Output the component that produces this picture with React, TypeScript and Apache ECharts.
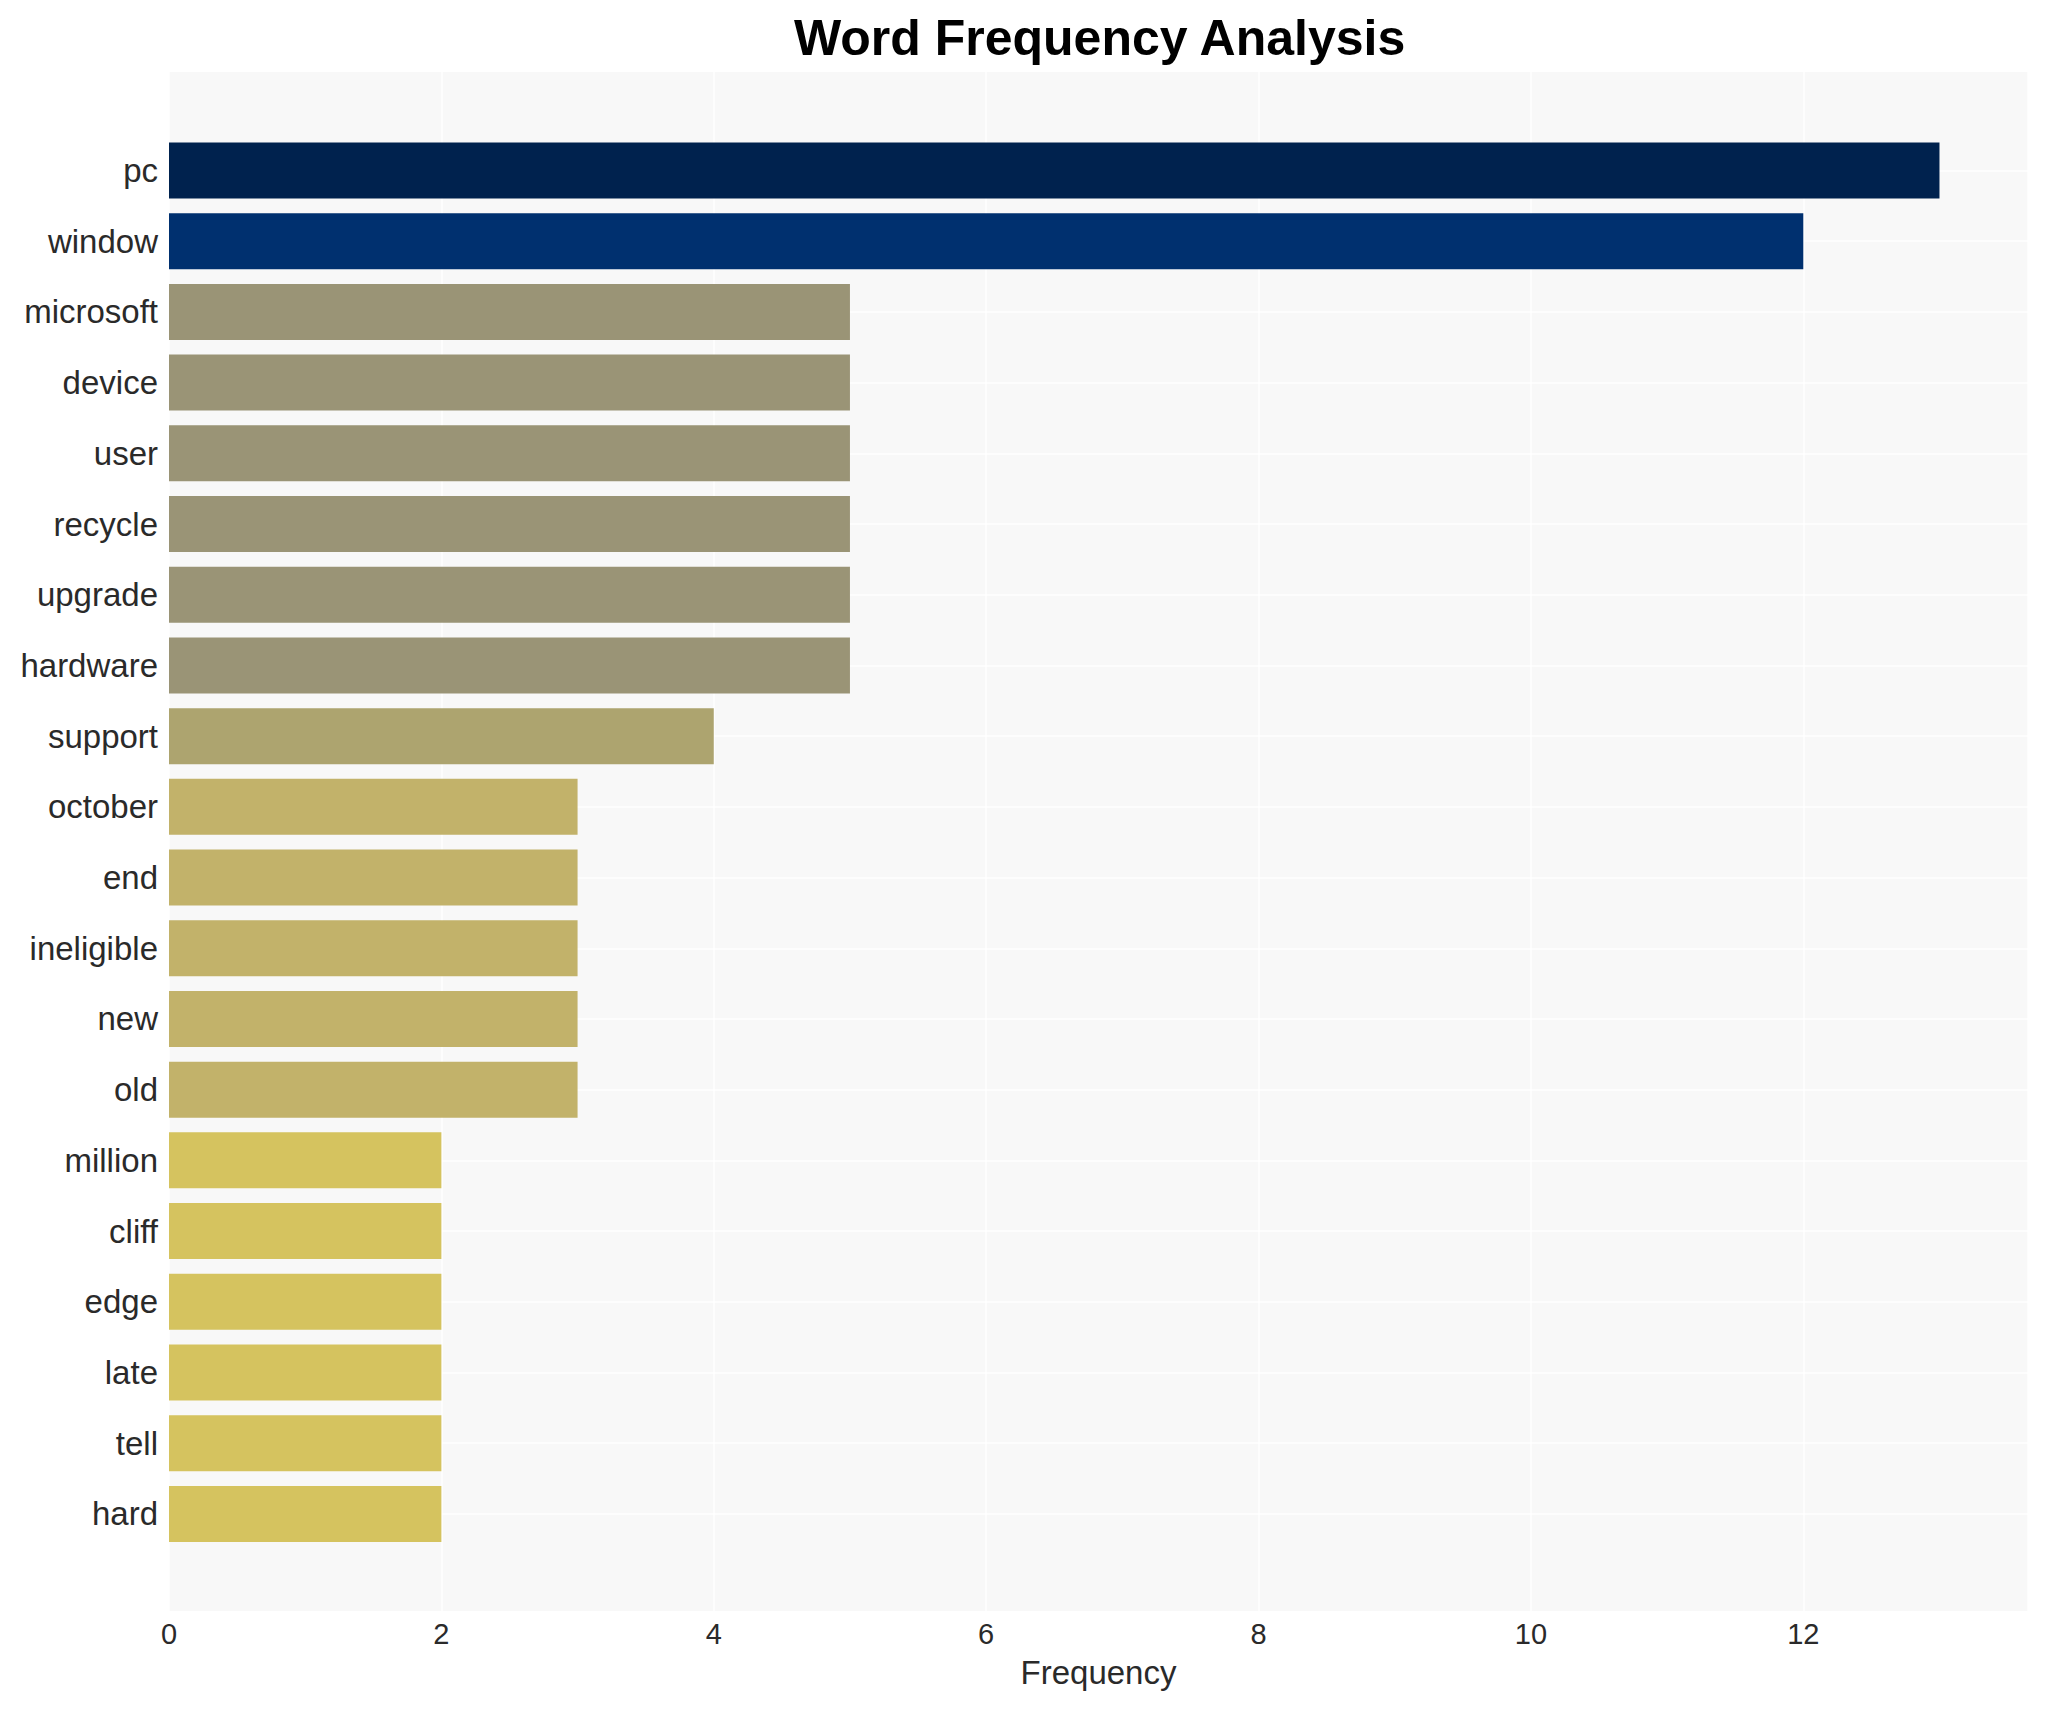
import React, { useEffect, useRef } from "react";
import * as echarts from "echarts";

const words = [
  "pc", "window", "microsoft", "device", "user", "recycle", "upgrade", "hardware",
  "support", "october", "end", "ineligible", "new", "old", "million", "cliff",
  "edge", "late", "tell", "hard",
];
const counts = [13, 12, 5, 5, 5, 5, 5, 5, 4, 3, 3, 3, 3, 3, 2, 2, 2, 2, 2, 2];
const xTicks = [0, 2, 4, 6, 8, 10, 12];

const colorByCount: Record<number, string> = {
  13: "#00224e",
  12: "#00306f",
  5: "#9a9476",
  4: "#ada46f",
  3: "#c2b26a",
  2: "#d5c35f",
};

const FONT = "'Liberation Sans', Arial, Helvetica, sans-serif";

export default function App() {
  const ref = useRef<HTMLDivElement>(null);
  useEffect(() => {
    document.body.style.margin = "0";
    if (!ref.current) return;
    const chart = echarts.init(ref.current, undefined, { renderer: "svg" });
    const xMax = 13.65;
    chart.setOption({
      animation: false,
      backgroundColor: "#ffffff",
      textStyle: { fontFamily: FONT },
      title: {
        text: "Word Frequency Analysis",
        left: 789,
        top: 8,
        textStyle: { fontSize: 50, fontWeight: "bold", color: "#000000", fontFamily: FONT },
      },
      grid: [
        {
          left: 169, top: 72, width: 1859, height: 1539,
          show: true, backgroundColor: "#f8f8f8", borderWidth: 0,
        },
        { left: 169, top: 170.5, width: 1859, height: 1343.4 },
      ],
      xAxis: [
        {
          gridIndex: 0, type: "value", min: 0, max: xMax, interval: 2,
          axisLine: { show: false }, axisTick: { show: false },
          axisLabel: {
            fontSize: 29, color: "#2a2a2a", margin: 8, showMaxLabel: false,
            formatter: (v: number) => (xTicks.includes(v) ? String(v) : ""),
          },
          splitLine: { show: true, lineStyle: { color: "#ffffff", width: 1.5 } },
          name: "Frequency", nameLocation: "middle", nameGap: 45,
          nameTextStyle: { fontSize: 33, color: "#2a2a2a" },
        },
        { gridIndex: 1, type: "value", min: 0, max: xMax, show: false },
      ],
      yAxis: [
        { gridIndex: 0, type: "value", min: 0, max: 1, show: false },
        {
          gridIndex: 1, type: "category", data: words, inverse: true, boundaryGap: false,
          axisLine: { show: false }, axisTick: { show: false },
          axisLabel: { fontSize: 33, color: "#2a2a2a", margin: 11, interval: 0 },
          splitLine: { show: true, lineStyle: { color: "#ffffff", width: 1.5 } },
        },
      ],
      series: [
        {
          type: "bar", xAxisIndex: 1, yAxisIndex: 1, barWidth: 56, clip: false,
          data: counts.map((c) => ({ value: c, itemStyle: { color: colorByCount[c] } })),
        },
      ],
    });
    return () => chart.dispose();
  }, []);
  return <div ref={ref} style={{ width: 2048, height: 1710 }} />;
}
